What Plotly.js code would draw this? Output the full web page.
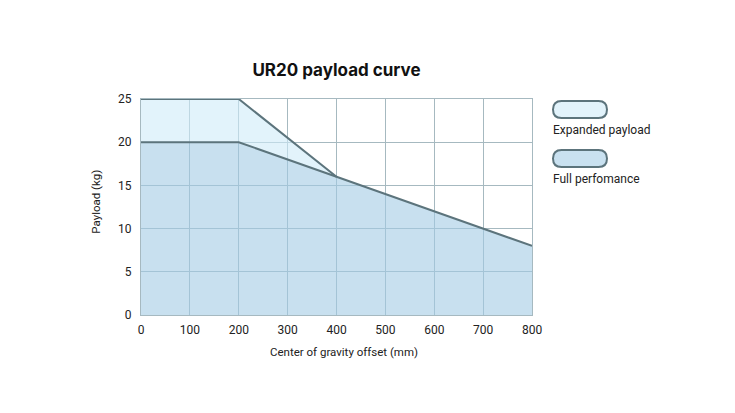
<!DOCTYPE html>
<html><head><meta charset="utf-8">
<script src="https://cdn.plot.ly/plotly-3.0.1.min.js"></script>
<style>html,body{margin:0;padding:0;background:#fff}#c{width:735px;height:413px}</style>
</head><body><div id="c"></div>
<script>
const fullX = [0, 200, 400, 800];
const fullY = [20, 20, 16, 8];
const expX = [0, 200, 400];
const expY = [25, 25, 16];
const seriesNames = ['Expanded payload', 'Full perfomance'];
const xTicks = [0, 100, 200, 300, 400, 500, 600, 700, 800];
const yTicks = [0, 5, 10, 15, 20, 25];
const xTitle = 'Center of gravity offset (mm)';
const yTitle = 'Payload (kg)';

const lineColor = '#5c747c';
const gridColor = '#a6b9c0';
const traces = [
  {x: fullX, y: fullY, type: 'scatter', mode: 'lines', fill: 'tozeroy',
   fillcolor: 'rgba(163,203,228,0.6)', line: {color: lineColor, width: 2}, name: seriesNames[1], showlegend: false, hoverinfo: 'skip'},
  {x: expX, y: expY, type: 'scatter', mode: 'lines', fill: 'tonexty',
   fillcolor: 'rgba(207,235,248,0.6)', line: {color: lineColor, width: 2}, name: seriesNames[0], showlegend: false, hoverinfo: 'skip'}
];

function pill(x0, x1, y0, y1) {
  const rx = (y1 - y0) / 2 * 216 / 391 * 1.0;
  const ym = (y0 + y1) / 2;
  return `M ${x0 + rx} ${y0} L ${x1 - rx} ${y0} Q ${x1} ${y0} ${x1} ${ym} Q ${x1} ${y1} ${x1 - rx} ${y1} L ${x0 + rx} ${y1} Q ${x0} ${y1} ${x0} ${ym} Q ${x0} ${y0} ${x0 + rx} ${y0} Z`;
}

const layout = {
  width: 735, height: 413,
  margin: {l: 141, r: 203, t: 99, b: 98},
  paper_bgcolor: '#ffffff', plot_bgcolor: '#ffffff',
  font: {family: 'Roboto, sans-serif', size: 12, color: '#222'},
  title: {text: 'UR20 payload curve', x: 0.5, xref: 'paper', y: 0.83, yref: 'container', yanchor: 'middle',
          font: {family: 'Inter, sans-serif', size: 17, color: '#111', weight: 700}},
  xaxis: {range: [0, 800], tickvals: xTicks, ticktext: xTicks.map(String), showgrid: true, gridcolor: gridColor, gridwidth: 1,
          zeroline: false, showline: true, mirror: true, linecolor: gridColor, linewidth: 1, ticks: '', ticklabelstandoff: 4,
          fixedrange: true},
  yaxis: {range: [0, 25], tickvals: yTicks, ticktext: yTicks.map(String), showgrid: true, gridcolor: gridColor, gridwidth: 1,
          zeroline: false, showline: true, mirror: true, linecolor: gridColor, linewidth: 1, ticks: '', ticklabelstandoff: 6,
          fixedrange: true},
  shapes: [
    {type: 'path', xref: 'paper', yref: 'paper', path: pill(1.0537, 1.1918, 0.912, 0.9907),
     fillcolor: '#e2f3fb', line: {color: lineColor, width: 2}},
    {type: 'path', xref: 'paper', yref: 'paper', path: pill(1.0537, 1.1918, 0.685, 0.764),
     fillcolor: '#c9e1f0', line: {color: lineColor, width: 2}}
  ],
  annotations: [
    {xref: 'paper', yref: 'paper', x: 1.0537, y: 0.856, xanchor: 'left', yanchor: 'middle', showarrow: false, xshift: -2,
     text: seriesNames[0], font: {size: 12, color: '#222'}},
    {xref: 'paper', yref: 'paper', x: 1.0537, y: 0.630, xanchor: 'left', yanchor: 'middle', showarrow: false, xshift: -2,
     text: seriesNames[1], font: {size: 12, color: '#222'}},
    {xref: 'paper', yref: 'paper', x: 0.518, y: -0.171, xanchor: 'center', yanchor: 'middle', showarrow: false,
     text: xTitle, font: {size: 11.5, color: '#222'}},
    {xref: 'paper', yref: 'paper', x: -0.116, y: 0.523, xanchor: 'center', yanchor: 'middle', showarrow: false, textangle: -90,
     text: yTitle, font: {size: 11.5, color: '#222'}}
  ],
  showlegend: false
};
Plotly.newPlot('c', traces, layout, {displayModeBar: false, staticPlot: true});
</script></body></html>
